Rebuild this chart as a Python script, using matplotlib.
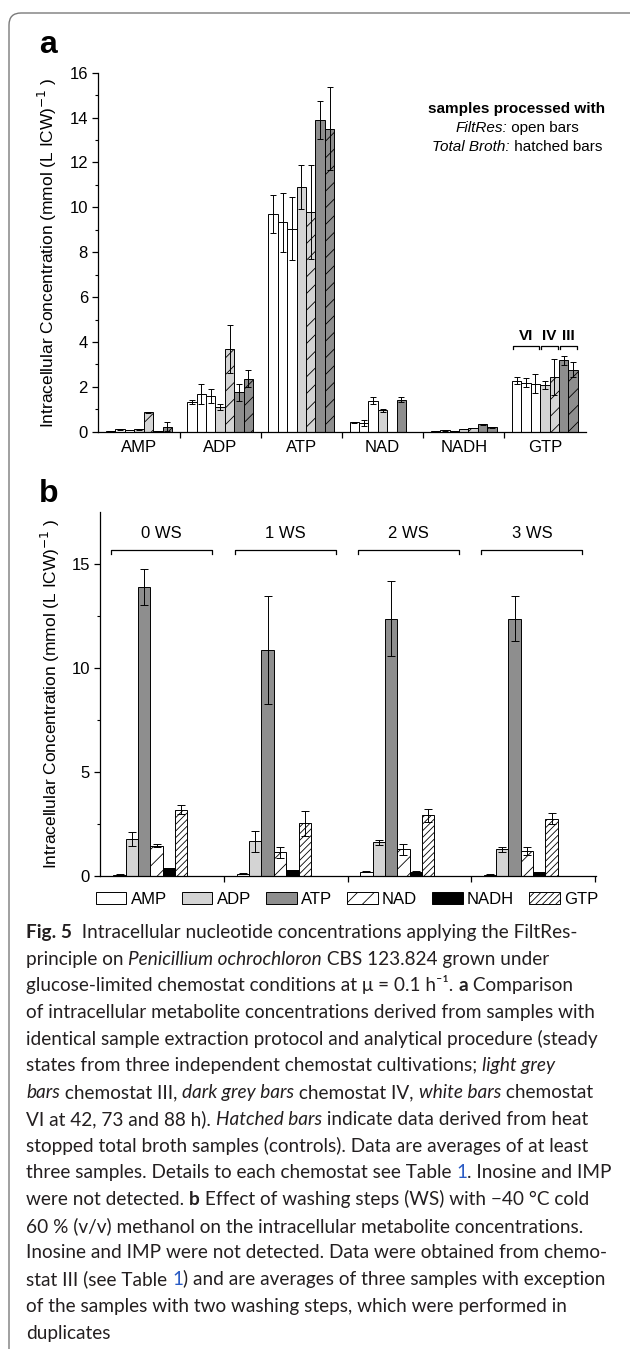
import numpy as np
import matplotlib
matplotlib.use("Agg")
import matplotlib.pyplot as plt
from matplotlib.patches import FancyBboxPatch, Patch
from matplotlib.transforms import IdentityTransform
from matplotlib import font_manager as fm

W, H = 630, 1349

# ---------------- panel a data (mmol (L ICW)^-1) ----------------
metabolites = ["AMP", "ADP", "ATP", "NAD", "NADH", "GTP"]
# chemostat VI (FiltRes, 42/73/88 h), IV and III (FiltRes / total broth)
vi_42h = [0.03, 1.32, 9.70, 0.43, 0.03, 2.28]
vi_73h = [0.10, 1.68, 9.33, 0.40, 0.06, 2.19]
vi_88h = [0.08, 1.58, 9.05, 1.38, 0.03, 2.13]
iv_filtres = [0.10, 1.11, 10.90, 0.95, 0.12, 2.10]
iv_broth = [0.87, 3.68, 9.78, 0.00, 0.17, 2.43]
iii_filtres = [0.03, 1.75, 13.88, 1.43, 0.33, 3.18]
iii_broth = [0.22, 2.37, 13.50, 0.00, 0.20, 2.76]

vi_42h_err = [0.01, 0.08, 0.83, 0.02, 0.01, 0.17]
vi_73h_err = [0.03, 0.45, 1.33, 0.13, 0.01, 0.20]
vi_88h_err = [0.01, 0.32, 1.40, 0.15, 0.01, 0.42]
iv_filtres_err = [0.02, 0.14, 0.98, 0.07, 0.01, 0.18]
iv_broth_err = [0.03, 1.07, 2.10, 0.00, 0.01, 0.80]
iii_filtres_err = [0.01, 0.36, 0.85, 0.10, 0.03, 0.21]
iii_broth_err = [0.20, 0.40, 1.85, 0.00, 0.02, 0.33]

# ---------------- panel b data ----------------
wash_steps = ["0 WS", "1 WS", "2 WS", "3 WS"]
amp_b = [0.05, 0.10, 0.19, 0.05]
adp_b = [1.77, 1.66, 1.60, 1.26]
atp_b = [13.88, 10.87, 12.36, 12.36]
nad_b = [1.44, 1.12, 1.26, 1.20]
nadh_b = [0.37, 0.26, 0.19, 0.16]
gtp_b = [3.18, 2.52, 2.90, 2.75]

amp_b_err = [0.01, 0.01, 0.03, 0.01]
adp_b_err = [0.35, 0.50, 0.14, 0.10]
atp_b_err = [0.85, 2.60, 1.82, 1.08]
nad_b_err = [0.07, 0.25, 0.28, 0.20]
nadh_b_err = [0.02, 0.02, 0.02, 0.02]
gtp_b_err = [0.22, 0.60, 0.33, 0.28]

LIGHT = "#d4d4d4"
DARK = "#8e8e8e"
CHART_FONT = ["Liberation Sans", "DejaVu Sans"]

plt.rcParams["font.family"] = CHART_FONT
plt.rcParams["mathtext.fontset"] = "custom"
plt.rcParams["mathtext.rm"] = "Liberation Sans"
plt.rcParams["hatch.linewidth"] = 0.6
plt.rcParams["axes.linewidth"] = 0.9


def px(x, y):
    """pixel (from top-left) -> figure fraction"""
    return x / W, 1 - y / H


fig = plt.figure(figsize=(W / 100, H / 100), dpi=100)
renderer = fig.canvas.get_renderer()


def run_width(txt, size, st, family):
    kw = dict(fontsize=size, family=family, fontstyle=st.get("style", "normal"),
              fontweight=st.get("weight", "normal"))
    t = fig.text(0, 0, "|" + txt + "|", **kw)
    w1 = t.get_window_extent(renderer).width
    t.remove()
    t = fig.text(0, 0, "||", **kw)
    w2 = t.get_window_extent(renderer).width
    t.remove()
    return w1 - w2


def draw_runs(line, x, y, size, family, center=False, color="black"):
    if center:
        x -= sum(run_width(t, size, st, family) for t, st in line) / 2
    for txt, st in line:
        fig.text(*px(x, y), txt, fontsize=size, family=family,
                 fontstyle=st.get("style", "normal"),
                 fontweight=st.get("weight", "normal"),
                 color=st.get("color", color), ha="left", va="baseline")
        x += run_width(txt, size, st, family)


N = {}
I = {"style": "italic"}
B = {"weight": "bold"}
BL = {"color": "#2a5bc4"}

# rounded frame
frame = FancyBboxPatch((9, -30), 700, H - 13 + 30,
                       boxstyle="round,pad=0,rounding_size=12",
                       transform=IdentityTransform(), facecolor="none",
                       edgecolor="#7a7a7a", linewidth=1.0)
fig.patches.append(frame)


def style_axes(ax):
    for s in ("top", "right"):
        ax.spines[s].set_visible(False)
    ax.tick_params(axis="y", which="major", direction="out", length=4,
                   width=0.9, labelsize=12)
    ax.tick_params(axis="y", which="minor", direction="out", length=2.5,
                   width=0.8)


YLABEL = "Intracellular Concentration (mmol (L ICW)$^{\\mathsf{-1}}$ )"

# ================= panel a =================
x0, x1, y0, y1 = 98.4, 585.5, 72.7, 431.7
ax_a = fig.add_axes([x0 / W, 1 - y1 / H, (x1 - x0) / W, (y1 - y0) / H])
xa = np.arange(len(metabolites))
bw = 0.116
series_a = [
    (vi_42h, vi_42h_err, "white", None),
    (vi_73h, vi_73h_err, "white", None),
    (vi_88h, vi_88h_err, "white", None),
    (iv_filtres, iv_filtres_err, LIGHT, None),
    (iv_broth, iv_broth_err, LIGHT, "//"),
    (iii_filtres, iii_filtres_err, DARK, None),
    (iii_broth, iii_broth_err, DARK, "//"),
]
for k, (vals, errs, fc, hatch) in enumerate(series_a):
    vals = np.array(vals)
    pos = xa + (k - 3) * bw
    shown = vals > 0
    ax_a.bar(pos[shown], vals[shown], bw, color=fc, edgecolor="black",
             linewidth=0.7, hatch=hatch)
    ax_a.errorbar(pos[shown], vals[shown], yerr=np.array(errs)[shown],
                  fmt="none", ecolor="black", elinewidth=0.7,
                  capsize=2.3, capthick=0.7)

ax_a.set_xlim(-0.5, 5.5)
ax_a.set_ylim(0, 16)
ax_a.set_yticks(np.arange(0, 17, 2))
ax_a.set_yticks(np.arange(1, 16, 2), minor=True)
ax_a.set_xticks(xa)
ax_a.set_xticklabels(metabolites, fontsize=12)
ax_a.set_xticks(np.arange(0.5, 5.0, 1.0), minor=True)
ax_a.tick_params(axis="x", which="major", length=0, pad=6)
ax_a.tick_params(axis="x", which="minor", length=4, direction="out", width=0.9)
style_axes(ax_a)
ax_a.set_ylabel(YLABEL, fontsize=12.5)
ax_a.yaxis.set_label_coords(-0.08, 0.5)

# chemostat brackets over GTP
gtp = 5
groups = [("VI", 0, 2), ("IV", 3, 4), ("III", 5, 6)]
yb = 3.82
for lab, k0, k1 in groups:
    left = gtp + (k0 - 3.5) * bw + 0.01
    right = gtp + (k1 - 2.5) * bw - 0.015
    ax_a.plot([left, left, right, right], [yb - 0.13, yb, yb, yb - 0.13],
              color="black", lw=0.9, clip_on=False)
    ax_a.text((left + right) / 2, yb + 0.12, lab, ha="center", va="bottom",
              fontsize=11, fontweight="bold")

draw_runs([("samples processed with", B)], 517, 113, 11, CHART_FONT, center=True)
draw_runs([("FiltRes:", I), (" open bars", N)], 517, 132, 11, CHART_FONT, center=True)
draw_runs([("Total Broth:", I), (" hatched bars", N)], 517, 151, 11, CHART_FONT,
          center=True)
fig.text(*px(39, 53), "a", fontsize=23, fontweight="bold", ha="left",
         va="baseline")

# ================= panel b =================
x0, x1, y0, y1 = 100.4, 596.0, 511.7, 875.7
ax_b = fig.add_axes([x0 / W, 1 - y1 / H, (x1 - x0) / W, (y1 - y0) / H])
xb = np.arange(len(wash_steps))
bwb = 0.1
series_b = [
    ("AMP", amp_b, amp_b_err, "white", None),
    ("ADP", adp_b, adp_b_err, LIGHT, None),
    ("ATP", atp_b, atp_b_err, DARK, None),
    ("NAD", nad_b, nad_b_err, "white", "//"),
    ("NADH", nadh_b, nadh_b_err, "black", None),
    ("GTP", gtp_b, gtp_b_err, "white", "/////"),
]
handles = []
for k, (name, vals, errs, fc, hatch) in enumerate(series_b):
    pos = xb + (k - 2.5) * bwb
    ax_b.bar(pos, vals, bwb, color=fc, edgecolor="black", linewidth=0.7,
             hatch=hatch)
    ax_b.errorbar(pos, vals, yerr=errs, fmt="none", ecolor="black",
                  elinewidth=0.7, capsize=2.6, capthick=0.7)
    handles.append(Patch(facecolor=fc, edgecolor="black", linewidth=0.7,
                         hatch=hatch, label=name))

ax_b.set_xlim(-0.405, 3.61)
ax_b.set_ylim(0, 17.5)
ax_b.set_yticks([0, 5, 10, 15])
ax_b.set_yticks([2.5, 7.5, 12.5], minor=True)
ax_b.set_xticks(xb + 0.6)
ax_b.set_xticklabels([])
ax_b.tick_params(axis="x", which="major", length=4, direction="out", width=0.9)
style_axes(ax_b)
ax_b.set_ylabel(YLABEL, fontsize=12.5)
ax_b.yaxis.set_label_coords(-0.078, 0.5)

ybr = 15.65
for i, lab in enumerate(wash_steps):
    left, right = i - 0.318, i + 0.5
    ax_b.plot([left, left, right, right], [ybr - 0.2, ybr, ybr, ybr - 0.2],
              color="black", lw=0.9, clip_on=False)
    ax_b.text((left + right) / 2, 16.45, lab, ha="center", va="center",
              fontsize=12)

fig.text(*px(39, 502), "b", fontsize=23, fontweight="bold", ha="left",
         va="baseline")

fig.legend(handles=handles, loc="center", bbox_to_anchor=px(347, 899),
           ncol=6, frameon=False, fontsize=12, handlelength=1.85,
           handleheight=0.7, handletextpad=0.25, columnspacing=0.9,
           borderaxespad=0, borderpad=0)

# ================= caption =================


def has_font(name):
    try:
        fm.findfont(fm.FontProperties(family=name), fallback_to_default=False)
        return True
    except ValueError:
        return False


cap_family = ["Liberation Sans Narrow", "DejaVu Sans"] \
    if has_font("Liberation Sans Narrow") else ["Lato", "DejaVu Sans"]

caption = [
    [("Fig. 5", B), ("  Intracellular nucleotide concentrations applying the FiltRes-", N)],
    [("principle on ", N), ("Penicillium ochrochloron", I), (" CBS 123.824 grown under", N)],
    [("glucose-limited chemostat conditions at \u03bc = 0.1 h\u207b\u00b9. ", N), ("a", B),
     (" Comparison", N)],
    [("of intracellular metabolite concentrations derived from samples with", N)],
    [("identical sample extraction protocol and analytical procedure (steady", N)],
    [("states from three independent chemostat cultivations; ", N), ("light grey", I)],
    [("bars", I), (" chemostat III, ", N), ("dark grey bars", I), (" chemostat IV, ", N),
     ("white bars", I), (" chemostat", N)],
    [("VI at 42, 73 and 88 h). ", N), ("Hatched bars", I),
     (" indicate data derived from heat", N)],
    [("stopped total broth samples (controls). Data are averages of at least", N)],
    [("three samples. Details to each chemostat see Table ", N), ("1", BL),
     (". Inosine and IMP", N)],
    [("were not detected. ", N), ("b", B),
     (" Effect of washing steps (WS) with \u221240 \u00b0C cold", N)],
    [("60 % (v/v) methanol on the intracellular metabolite concentrations.", N)],
    [("Inosine and IMP were not detected. Data were obtained from chemo-", N)],
    [("stat III (see Table ", N), ("1", BL),
     (") and are averages of three samples with exception", N)],
    [("of the samples with two washing steps, which were performed in", N)],
    [("duplicates", N)],
]

base = 12.0
widest = max(sum(run_width(t, base, st, cap_family) for t, st in line)
             for line in caption)
cap_size = min(15.5, base * 584 / widest)

for i, line in enumerate(caption):
    draw_runs(line, 26.0, 938 + i * 26.7, cap_size, cap_family, color="#231f20")

fig.savefig("out.png", dpi=100)
